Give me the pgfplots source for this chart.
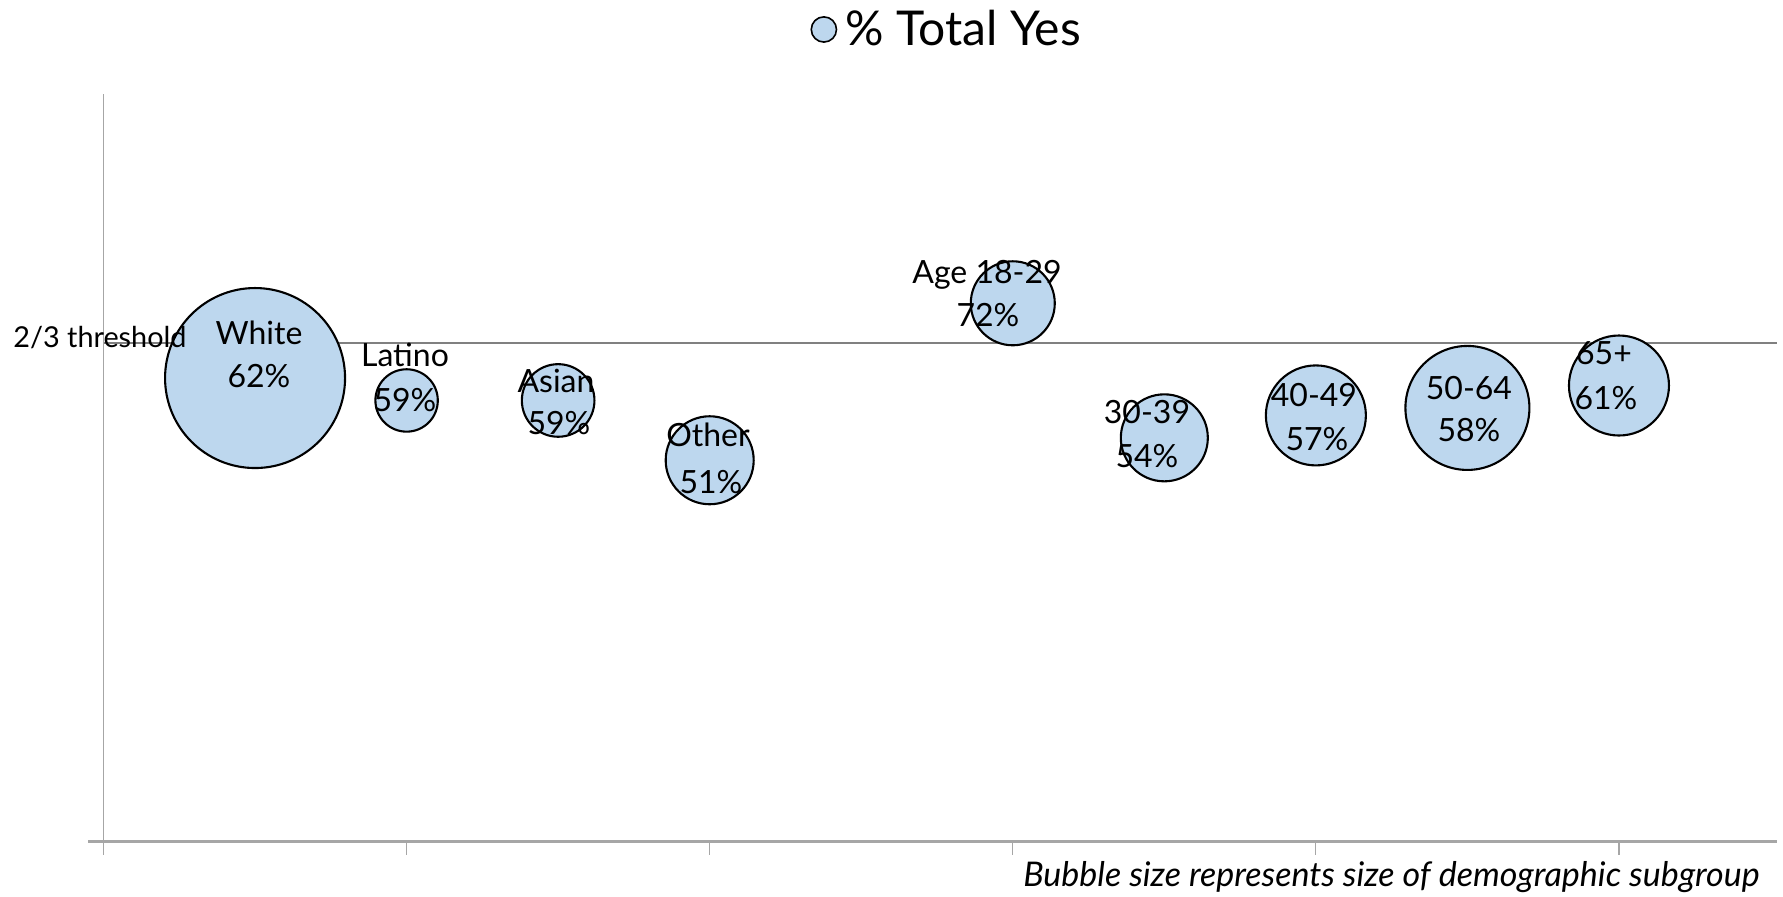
\documentclass[border=0pt]{standalone}
\usepackage{fontspec}
\setmainfont{Lato}
\usepackage{pgfplots}
\pgfplotsset{compat=1.18}
\usepackage{pgfplotstable}
\definecolor{bubble}{RGB}{189,215,238}
\definecolor{axisgray}{RGB}{166,166,166}
\definecolor{thrgray}{RGB}{128,128,128}

% x position, % Total Yes, bubble radius (pt)
\pgfplotstableread{
x y r
0.5 62 45
1.0 59 15.6
1.5 59 18.15
2.0 51 22
3.0 72 21
3.5 54 21.75
4.0 57 25
4.5 58 31
5.0 61 25
}\bubbles

\begin{document}
\begin{tikzpicture}
\begin{axis}[
  at={(44.18pt,27.75pt)}, anchor=south west,
  scale only axis, width=844.1pt, height=373.75pt,
  xmin=-0.05, xmax=5.52, ymin=0, ymax=100,
  hide axis, clip=false,
  legend style={draw=none, fill=none, inner sep=0pt, anchor=west,
    at={(0.4275,1.0863)}, font=\fontsize{24}{28}\selectfont,
    /tikz/every even column/.append style={column sep=0pt}},
  legend image code/.code={\draw[black, fill=bubble, line width=0.8pt] (6.5pt,0pt) circle (6.3pt);},
]
\draw[axisgray, line width=0.7pt] (axis cs:0,0) -- (axis cs:0,100);
\draw[axisgray, line width=1.1pt] (axis cs:-0.05,0) -- (axis cs:5.52,0);
\pgfplotsinvokeforeach{0,1,2,3,4,5}{\draw[axisgray, line width=0.6pt] (axis cs:#1,0) -- ([yshift=-7pt]axis cs:#1,0);}
\addplot[scatter, only marks, mark=*, point meta=explicit,
  visualization depends on={\thisrow{r}\as\rad},
  scatter/use mapped color={draw=black, fill=bubble},
  scatter/@pre marker code/.append style={/tikz/mark size=\rad pt},
  mark options={line width=1.05pt}] table[x=x, y=y, meta=r]{\bubbles};
\addlegendentry{\hspace{2pt}\% Total Yes}
\addplot[thrgray, line width=0.85pt, forget plot] coordinates {(0,66.667) (5.52,66.667)};

\coordinate (n1) at (axis cs:0.513,66.42);
\coordinate (v1) at (axis cs:0.513,60.67);
\coordinate (n2) at (axis cs:0.9947,63.52);
\coordinate (v2) at (axis cs:0.9947,57.50);
\coordinate (n3) at (axis cs:1.4929,60.00);
\coordinate (v3) at (axis cs:1.5028,54.38);
\coordinate (n4) at (axis cs:1.9944,52.82);
\coordinate (v4) at (axis cs:2.0043,46.62);
\coordinate (n5) at (axis cs:2.9149,74.65);
\coordinate (v5) at (axis cs:2.9182,68.90);
\coordinate (n6) at (axis cs:3.4428,55.95);
\coordinate (v6) at (axis cs:3.4428,50.06);
\coordinate (n7) at (axis cs:3.9937,58.17);
\coordinate (v7) at (axis cs:4.0036,52.28);
\coordinate (n8) at (axis cs:4.5051,59.16);
\coordinate (v8) at (axis cs:4.5051,53.48);
\coordinate (n9) at (axis cs:4.9505,63.75);
\coordinate (v9) at (axis cs:4.9571,57.73);
\coordinate (thr) at (axis cs:-0.2986,66.15);
\coordinate (note) at (axis cs:5.465,-6.087);
\end{axis}
\begin{scope}[every node/.style={font=\fontsize{16}{19}\selectfont, inner sep=0pt, anchor=base}]
\node at (n1) {White};
\node at (v1) {62\%};
\node at (n2) {Latino};
\node at (v2) {59\%};
\node at (n3) {Asian};
\node at (v3) {59\%};
\node at (n4) {Other};
\node at (v4) {51\%};
\node at (n5) {Age 18-29};
\node at (v5) {72\%};
\node at (n6) {30-39};
\node at (v6) {54\%};
\node at (n7) {40-49};
\node at (v7) {57\%};
\node at (n8) {50-64};
\node at (v8) {58\%};
\node at (n9) {65+};
\node at (v9) {61\%};
\end{scope}
\node[font=\fontsize{14.4}{17}\selectfont, inner sep=0pt, anchor=base west] at (thr) {2/3 threshold};
\node[font=\fontsize{17}{20}\selectfont\itshape, inner sep=0pt, anchor=base east] at (note) {Bubble size represents size of demographic subgroup};
\pgfresetboundingbox
\path (0,0) rectangle (891.5pt,448.5pt);
\end{tikzpicture}
\end{document}
